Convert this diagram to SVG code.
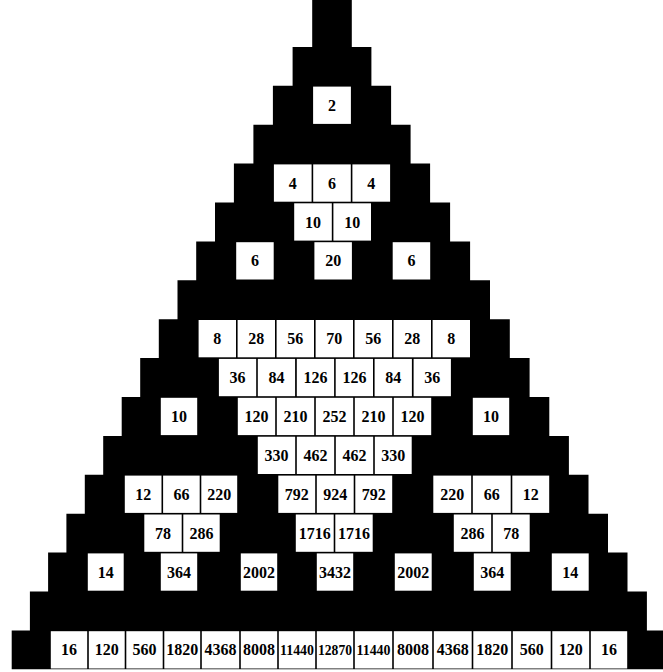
<svg xmlns="http://www.w3.org/2000/svg" width="663" height="672" viewBox="0 0 663 672">
<style>
.bg{fill:#fff}
.tri{fill:#000}
.c rect{fill:#fff;stroke:none}
.c text{font-family:"Liberation Serif","Times New Roman",serif;font-size:16px;font-weight:bold;fill:#000;text-anchor:middle}
.c text.s{font-size:15px}
</style>
<rect class="bg" x="0" y="0" width="663" height="672"/>
<g id="triangle">
<path class="tri" d="M312.2,0 H351.8 V46.9 H371.4 V85.8 H391.1 V124.7 H410.6 V163.6 H430.1 V202.5 H450.1 V241.4 H470.1 V280.3 H490 V319.2 H509.8 V358.1 H529.6 V397 H549.3 V435.9 H568.9 V474.8 H588.5 V513.7 H608 V552.6 H627.5 V591.5 H646.9 V630.4 H666 V669.3 H11.7 V630.4 H29.9 V591.5 H48.1 V552.6 H66.4 V513.7 H84.8 V474.8 H103.2 V435.9 H121.7 V397 H140.2 V358.1 H158.8 V319.2 H177.5 V280.3 H196.2 V241.4 H215 V202.5 H233.9 V163.6 H253.4 V124.7 H272.9 V85.8 H292.6 V46.9 H312.2 Z"/>
</g>
<g id="connectors"/>
<g transform="translate(0,85.8)">
<g id="r2k1" class="c"><rect x="313.1" y="0.8" width="37.8" height="37.3"/><text x="332" y="25">2</text></g>
</g>
<g transform="translate(0,163.6)">
<g id="r4k1" class="c"><rect x="273.9" y="0.8" width="37.7" height="37.3"/><text x="292.8" y="25">4</text></g>
<g id="r4k2" class="c"><rect x="313.2" y="0.8" width="37.6" height="37.3"/><text x="332" y="25">6</text></g>
<g id="r4k3" class="c"><rect x="352.4" y="0.8" width="37.7" height="37.3"/><text x="371.3" y="25">4</text></g>
</g>
<g transform="translate(0,202.5)">
<g id="r5k2" class="c"><rect x="294.2" y="0.8" width="37.6" height="37.3"/><text x="313" y="25">10</text></g>
<g id="r5k3" class="c"><rect x="333.4" y="0.8" width="37.6" height="37.3"/><text x="352.2" y="25">10</text></g>
</g>
<g transform="translate(0,241.4)">
<g id="r6k1" class="c"><rect x="236.2" y="0.8" width="37.5" height="37.3"/><text x="255" y="25">6</text></g>
<g id="r6k3" class="c"><rect x="314.4" y="0.8" width="37.5" height="37.3"/><text x="333.2" y="25">20</text></g>
<g id="r6k5" class="c"><rect x="392.7" y="0.8" width="37.5" height="37.3"/><text x="411.5" y="25">6</text></g>
</g>
<g transform="translate(0,319.2)">
<g id="r8k1" class="c"><rect x="198.6" y="0.8" width="37.4" height="37.3"/><text x="217.3" y="25">8</text></g>
<g id="r8k2" class="c"><rect x="237.6" y="0.8" width="37.4" height="37.3"/><text x="256.3" y="25">28</text></g>
<g id="r8k3" class="c"><rect x="276.6" y="0.8" width="37.4" height="37.3"/><text x="295.3" y="25">56</text></g>
<g id="r8k4" class="c"><rect x="315.6" y="0.8" width="37.4" height="37.3"/><text x="334.3" y="25">70</text></g>
<g id="r8k5" class="c"><rect x="354.6" y="0.8" width="37.4" height="37.3"/><text x="373.3" y="25">56</text></g>
<g id="r8k6" class="c"><rect x="393.6" y="0.8" width="37.4" height="37.3"/><text x="412.3" y="25">28</text></g>
<g id="r8k7" class="c"><rect x="432.6" y="0.8" width="37.4" height="37.3"/><text x="451.3" y="25">8</text></g>
</g>
<g transform="translate(0,358.1)">
<g id="r9k2" class="c"><rect x="218.9" y="0.8" width="37.3" height="37.3"/><text x="237.6" y="25">36</text></g>
<g id="r9k3" class="c"><rect x="257.8" y="0.8" width="37.3" height="37.3"/><text x="276.5" y="25">84</text></g>
<g id="r9k4" class="c"><rect x="296.8" y="0.8" width="37.3" height="37.3"/><text x="315.4" y="25">126</text></g>
<g id="r9k5" class="c"><rect x="335.7" y="0.8" width="37.3" height="37.3"/><text x="354.4" y="25">126</text></g>
<g id="r9k6" class="c"><rect x="374.6" y="0.8" width="37.3" height="37.3"/><text x="393.3" y="25">84</text></g>
<g id="r9k7" class="c"><rect x="413.6" y="0.8" width="37.3" height="37.3"/><text x="432.3" y="25">36</text></g>
</g>
<g transform="translate(0,397)">
<g id="r10k1" class="c"><rect x="160.8" y="0.8" width="36.4" height="37.3"/><text x="179" y="25">10</text></g>
<g id="r10k3" class="c"><rect x="237.8" y="0.8" width="37.4" height="37.3"/><text x="256.5" y="25">120</text></g>
<g id="r10k4" class="c"><rect x="276.8" y="0.8" width="37.4" height="37.3"/><text x="295.5" y="25">210</text></g>
<g id="r10k5" class="c"><rect x="315.8" y="0.8" width="37.4" height="37.3"/><text x="334.5" y="25">252</text></g>
<g id="r10k6" class="c"><rect x="354.8" y="0.8" width="37.4" height="37.3"/><text x="373.5" y="25">210</text></g>
<g id="r10k7" class="c"><rect x="393.8" y="0.8" width="37.4" height="37.3"/><text x="412.5" y="25">120</text></g>
<g id="r10k9" class="c"><rect x="472.8" y="0.8" width="36.4" height="37.3"/><text x="491" y="25">10</text></g>
</g>
<g transform="translate(0,435.9)">
<g id="r11k4" class="c"><rect x="257.8" y="0.8" width="37.4" height="37.3"/><text x="276.5" y="25">330</text></g>
<g id="r11k5" class="c"><rect x="296.8" y="0.8" width="37.4" height="37.3"/><text x="315.5" y="25">462</text></g>
<g id="r11k6" class="c"><rect x="335.8" y="0.8" width="37.4" height="37.3"/><text x="354.5" y="25">462</text></g>
<g id="r11k7" class="c"><rect x="374.8" y="0.8" width="36.9" height="37.3"/><text x="393.3" y="25">330</text></g>
</g>
<g transform="translate(0,474.8)">
<g id="r12k1" class="c"><rect x="124.8" y="0.8" width="36.7" height="37.3"/><text x="143.2" y="25">12</text></g>
<g id="r12k2" class="c"><rect x="163.1" y="0.8" width="36.6" height="37.3"/><text x="181.4" y="25">66</text></g>
<g id="r12k3" class="c"><rect x="201.3" y="0.8" width="35.9" height="37.3"/><text x="219.3" y="25">220</text></g>
<g id="r12k5" class="c"><rect x="278.3" y="0.8" width="36.9" height="37.3"/><text x="296.8" y="25">792</text></g>
<g id="r12k6" class="c"><rect x="316.8" y="0.8" width="36.9" height="37.3"/><text x="335.3" y="25">924</text></g>
<g id="r12k7" class="c"><rect x="355.3" y="0.8" width="36.9" height="37.3"/><text x="373.8" y="25">792</text></g>
<g id="r12k9" class="c"><rect x="433.3" y="0.8" width="37.9" height="37.3"/><text x="452.3" y="25">220</text></g>
<g id="r12k10" class="c"><rect x="472.8" y="0.8" width="37.9" height="37.3"/><text x="491.8" y="25">66</text></g>
<g id="r12k11" class="c"><rect x="512.3" y="0.8" width="36.9" height="37.3"/><text x="530.8" y="25">12</text></g>
</g>
<g transform="translate(0,513.7)">
<g id="r13k2" class="c"><rect x="144.3" y="0.8" width="37.4" height="37.3"/><text x="163" y="25">78</text></g>
<g id="r13k3" class="c"><rect x="183.3" y="0.8" width="36.4" height="37.3"/><text x="201.5" y="25">286</text></g>
<g id="r13k6" class="c"><rect x="295.8" y="0.8" width="37.9" height="37.3"/><text x="314.8" y="25">1716</text></g>
<g id="r13k7" class="c"><rect x="335.3" y="0.8" width="37.4" height="37.3"/><text x="354" y="25">1716</text></g>
<g id="r13k10" class="c"><rect x="453.8" y="0.8" width="37.4" height="37.3"/><text x="472.5" y="25">286</text></g>
<g id="r13k11" class="c"><rect x="492.8" y="0.8" width="36.9" height="37.3"/><text x="511.3" y="25">78</text></g>
</g>
<g transform="translate(0,552.6)">
<g id="r14k1" class="c"><rect x="87.8" y="0.8" width="35.9" height="37.3"/><text x="105.8" y="25">14</text></g>
<g id="r14k3" class="c"><rect x="160.8" y="0.8" width="36.4" height="37.3"/><text x="179" y="25">364</text></g>
<g id="r14k5" class="c"><rect x="240.8" y="0.8" width="36.4" height="37.3"/><text x="259" y="25">2002</text></g>
<g id="r14k7" class="c"><rect x="316.8" y="0.8" width="36.4" height="37.3"/><text x="335" y="25">3432</text></g>
<g id="r14k9" class="c"><rect x="394.8" y="0.8" width="36.9" height="37.3"/><text x="413.3" y="25">2002</text></g>
<g id="r14k11" class="c"><rect x="473.8" y="0.8" width="36.9" height="37.3"/><text x="492.3" y="25">364</text></g>
<g id="r14k13" class="c"><rect x="551.8" y="0.8" width="36.9" height="37.3"/><text x="570.3" y="25">14</text></g>
</g>
<g transform="translate(0,630.4)">
<g id="r16k1" class="c"><rect x="50.8" y="0.8" width="36.4" height="37.3"/><text x="69" y="25">16</text></g>
<g id="r16k2" class="c"><rect x="88.8" y="0.8" width="35.9" height="37.3"/><text x="106.8" y="25">120</text></g>
<g id="r16k3" class="c"><rect x="126.3" y="0.8" width="36.4" height="37.3"/><text x="144.5" y="25">560</text></g>
<g id="r16k4" class="c"><rect x="164.3" y="0.8" width="35.9" height="37.3"/><text x="182.3" y="25">1820</text></g>
<g id="r16k5" class="c"><rect x="201.8" y="0.8" width="37.4" height="37.3"/><text x="220.5" y="25">4368</text></g>
<g id="r16k6" class="c"><rect x="240.8" y="0.8" width="36.4" height="37.3"/><text x="259" y="25">8008</text></g>
<g id="r16k7" class="c"><rect x="278.8" y="0.8" width="36.4" height="37.3"/><text class="s" x="297" y="25" textLength="34" lengthAdjust="spacingAndGlyphs">11440</text></g>
<g id="r16k8" class="c"><rect x="316.8" y="0.8" width="36.4" height="37.3"/><text class="s" x="335" y="25" textLength="34" lengthAdjust="spacingAndGlyphs">12870</text></g>
<g id="r16k9" class="c"><rect x="354.8" y="0.8" width="37.4" height="37.3"/><text class="s" x="373.5" y="25" textLength="34" lengthAdjust="spacingAndGlyphs">11440</text></g>
<g id="r16k10" class="c"><rect x="393.8" y="0.8" width="38.4" height="37.3"/><text x="413" y="25">8008</text></g>
<g id="r16k11" class="c"><rect x="433.8" y="0.8" width="37.9" height="37.3"/><text x="452.8" y="25">4368</text></g>
<g id="r16k12" class="c"><rect x="473.3" y="0.8" width="37.9" height="37.3"/><text x="492.3" y="25">1820</text></g>
<g id="r16k13" class="c"><rect x="512.8" y="0.8" width="37.9" height="37.3"/><text x="531.8" y="25">560</text></g>
<g id="r16k14" class="c"><rect x="552.3" y="0.8" width="36.9" height="37.3"/><text x="570.8" y="25">120</text></g>
<g id="r16k15" class="c"><rect x="590.8" y="0.8" width="36.4" height="37.3"/><text x="609" y="25">16</text></g>
</g>
</svg>
